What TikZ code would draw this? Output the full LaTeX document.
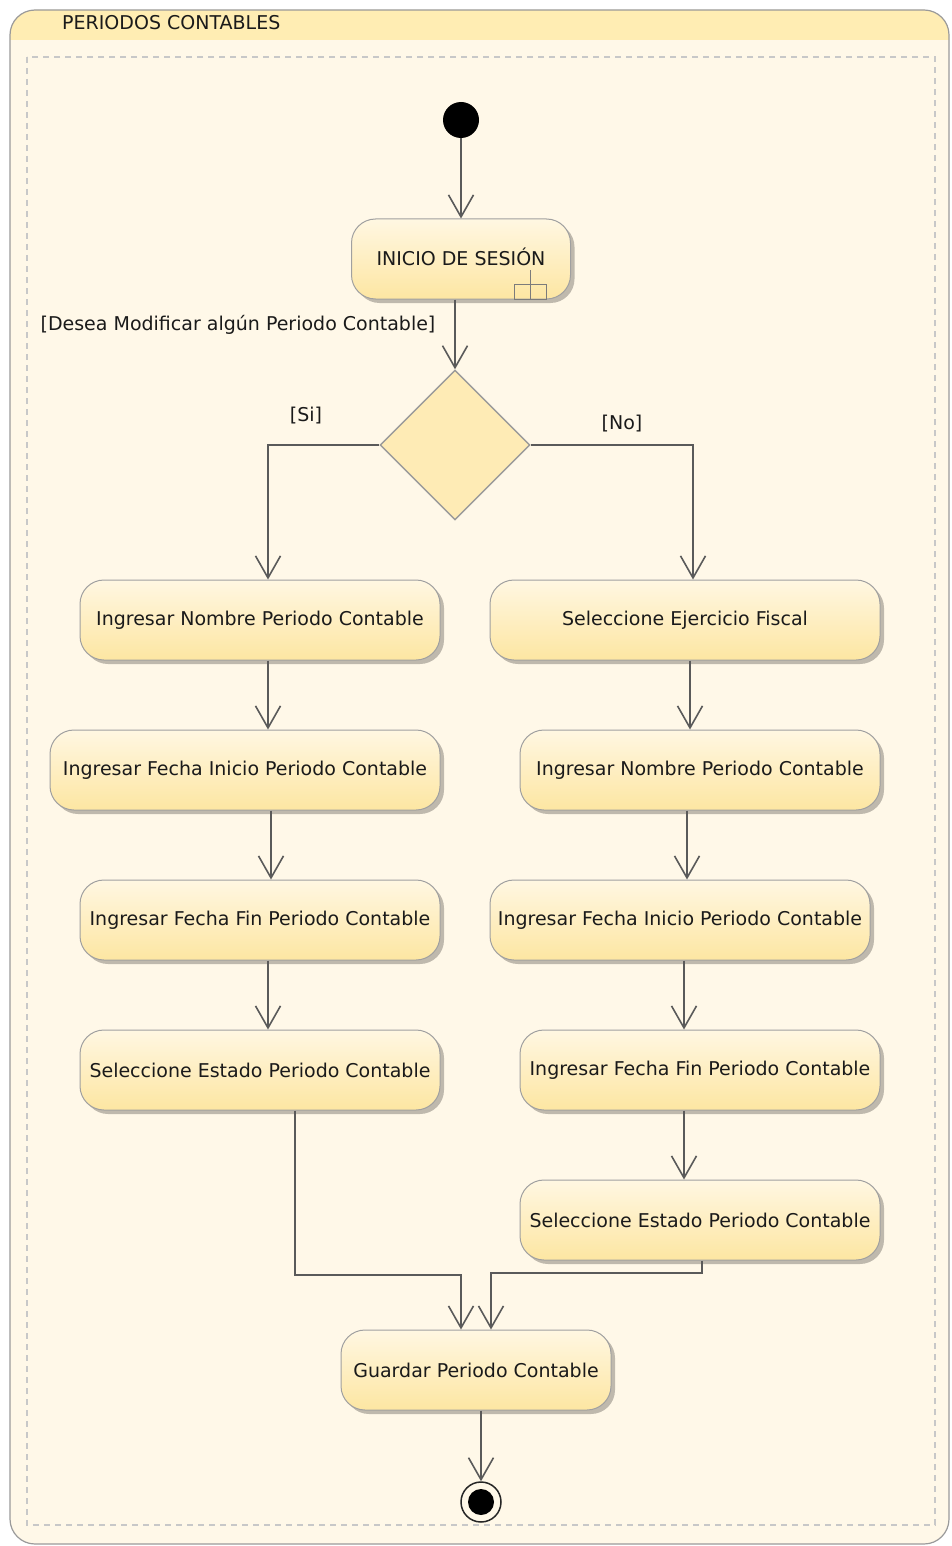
\documentclass[tikz,border=0pt]{standalone}
\usepackage{fontspec}
\setmainfont{DejaVu Sans}
\usetikzlibrary{arrows.meta,shapes.geometric,shadows}

\definecolor{bodyfill}{HTML}{FFF8E8}
\definecolor{headfill}{HTML}{FFEDB3}
\definecolor{framecol}{HTML}{9A9A9A}
\definecolor{dashcol}{HTML}{C8C8C8}
\definecolor{acttop}{HTML}{FFF7E2}
\definecolor{actbot}{HTML}{FDE6A2}
\definecolor{actborder}{HTML}{A0A0A0}
\definecolor{decfill}{HTML}{FEEBB5}
\definecolor{linecol}{HTML}{5A5A5A}
\definecolor{txtcol}{HTML}{1A1A1A}

\tikzset{
  actbox/.style={rectangle, rounded corners=24pt, draw=actborder, line width=1pt,
    top color=acttop, bottom color=actbot, minimum height=80pt, inner sep=0pt,
    text=txtcol,
    drop shadow={shadow xshift=4pt, shadow yshift=-4pt, opacity=0.25, fill=black}},
  decbox/.style={diamond, aspect=1, draw=framecol, line width=1.4pt, fill=decfill,
    minimum width=150pt, minimum height=150pt, inner sep=0pt},
  flow/.style={draw=linecol, line width=1.6pt,
    -{Straight Barb[length=22pt,width=25pt,line width=1.6pt]}},
  guard/.style={text=txtcol, inner sep=0pt},
}

\begin{document}
\begin{tikzpicture}[x=1pt,y=-1pt,font=\fontsize{19}{22}\selectfont]
\useasboundingbox (0,0) rectangle (952,1546);

% swimlane frame with header band
\begin{scope}
  \clip[rounded corners=25pt] (10,10) rectangle (949,1544);
  \fill[bodyfill] (0,0) rectangle (952,1546);
  \fill[headfill] (0,0) rectangle (952,40);
\end{scope}
\draw[framecol, line width=1.2pt, rounded corners=25pt] (10,10) rectangle (949,1544);
\node[guard, anchor=west] (lane) at (62,23) {PERIODOS CONTABLES};
\draw[dashcol, line width=1.2pt, dash pattern=on 6pt off 5pt] (27,57) rectangle (935,1525);

% start node
\node[circle, fill=black, minimum size=36pt, inner sep=0pt] (start) at (461,120) {};

% login (call behaviour action) with its rake symbol
\node[actbox, minimum width=219pt] (login) at (461,259) {\raisebox{4pt}{INICIO DE SESIÓN}};
\draw[linecol!80, line width=1pt] ([xshift=-57pt]login.south east) rectangle ([xshift=-25pt,yshift=15pt]login.south east);
\draw[linecol!80, line width=1pt] ([xshift=-41pt]login.south east) -- ([xshift=-41pt,yshift=30pt]login.south east);

% decision
\node[decbox] (dec) at (455,445) {};

% left branch
\node[actbox, minimum width=360pt] (l1) at (260,620) {Ingresar Nombre Periodo Contable};
\node[actbox, minimum width=390pt] (l2) at (245,770) {Ingresar Fecha Inicio Periodo Contable};
\node[actbox, minimum width=360pt] (l3) at (260,920) {Ingresar Fecha Fin Periodo Contable};
\node[actbox, minimum width=360pt] (l4) at (260,1070) {Seleccione Estado Periodo Contable};

% right branch
\node[actbox, minimum width=390pt] (r1) at (685,620) {Seleccione Ejercicio Fiscal};
\node[actbox, minimum width=360pt] (r2) at (700,770) {Ingresar Nombre Periodo Contable};
\node[actbox, minimum width=380pt] (r3) at (680,920) {Ingresar Fecha Inicio Periodo Contable};
\node[actbox, minimum width=360pt] (r4) at (700,1070) {Ingresar Fecha Fin Periodo Contable};
\node[actbox, minimum width=360pt] (r5) at (700,1220) {Seleccione Estado Periodo Contable};

% save
\node[actbox, minimum width=270pt] (save) at (476,1370) {Guardar Periodo Contable};

% final node
\node[circle, draw=black!85, line width=1.5pt, fill=bodyfill, minimum size=40pt, inner sep=0pt] (final) at (481,1502) {};
\node[circle, fill=black, minimum size=26pt, inner sep=0pt] (finaldot) at (final.center) {};

% flows
\draw[flow] (start) -- (login);
\draw[flow] (login.south -| dec.north) -- (dec.north);
\node[guard] (gq) at (238,325) {[Desea Modificar algún Periodo Contable]};

\draw[flow] (dec.west) -| (l1.north -| 268,0);
\node[guard] (gsi) at (306,416) {[Si]};
\draw[flow] (dec.east) -| (r1.north -| 693,0);
\node[guard] (gno) at (622,424) {[No]};

\draw[flow] (l1.south -| 268,0) -- (l2.north -| 268,0);
\draw[flow] (l2.south -| 271,0) -- (l3.north -| 271,0);
\draw[flow] (l3.south -| 268,0) -- (l4.north -| 268,0);

\draw[flow] (r1.south -| 690,0) -- (r2.north -| 690,0);
\draw[flow] (r2.south -| 687,0) -- (r3.north -| 687,0);
\draw[flow] (r3.south -| 684,0) -- (r4.north -| 684,0);
\draw[flow] (r4.south -| 684,0) -- (r5.north -| 684,0);

\draw[flow] (l4.south -| 295,0) -- (295,1275) -- (461,1275) -- (save.north -| 461,0);
\draw[flow] (r5.south -| 702,0) -- (702,1273) -- (491,1273) -- (save.north -| 491,0);

\draw[flow] (save.south -| final.north) -- (final.north);
\end{tikzpicture}
\end{document}
